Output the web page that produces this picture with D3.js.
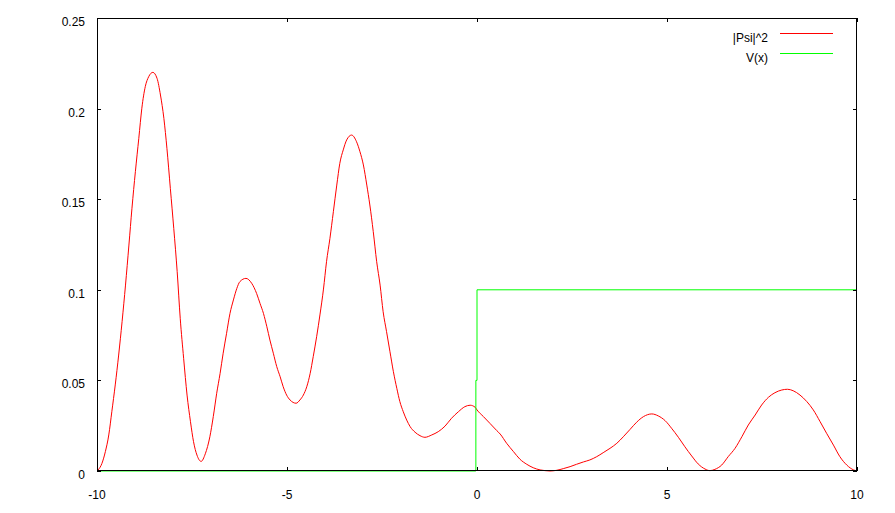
<!DOCTYPE html>
<html><head><meta charset="utf-8">
<script src="https://cdn.jsdelivr.net/npm/d3@7"></script>
<style>
html,body{margin:0;padding:0;background:#fff;}
svg text{font-family:"Liberation Sans",Arial,sans-serif;font-size:12px;fill:#000;}
</style></head>
<body><svg id="c" width="895" height="513"></svg>
<script>
const psiX = [-10,-9.97,-9.87,-9.78,-9.69,-9.61,-9.52,-9.43,-9.34,-9.25,-9.16,-9.08,-8.99,-8.90,-8.82,-8.73,-8.64,-8.53,-8.42,-8.33,-8.24,-8.16,-8.07,-7.98,-7.89,-7.81,-7.72,-7.63,-7.54,-7.46,-7.37,-7.26,-7.15,-7.03,-6.94,-6.85,-6.76,-6.68,-6.59,-6.50,-6.41,-6.32,-6.24,-6.08,-5.93,-5.80,-5.71,-5.62,-5.53,-5.45,-5.36,-5.27,-5.18,-5.10,-5.01,-4.92,-4.76,-4.66,-4.57,-4.48,-4.39,-4.31,-4.22,-4.13,-4.04,-3.96,-3.87,-3.78,-3.69,-3.61,-3.52,-3.43,-3.30,-3.17,-3.08,-2.99,-2.90,-2.82,-2.73,-2.64,-2.55,-2.47,-2.38,-2.29,-2.20,-2.11,-2.03,-1.94,-1.85,-1.76,-1.63,-1.50,-1.37,-1.19,-1.02,-0.84,-0.67,-0.49,-0.32,-0.18,-0.05,0.0,0.17,0.34,0.52,0.61,0.78,0.96,1.13,1.31,1.48,1.66,1.79,1.92,2.10,2.27,2.45,2.62,2.80,2.97,3.15,3.32,3.50,3.68,3.85,4.03,4.20,4.38,4.60,4.77,4.95,5.12,5.30,5.47,5.65,5.82,6.0,6.13,6.26,6.44,6.61,6.79,6.97,7.14,7.32,7.49,7.67,7.84,8.02,8.17,8.32,8.50,8.68,8.85,9.03,9.20,9.38,9.55,9.73,9.91,10];
const psiY = [0,0.0006,0.0042,0.0107,0.0199,0.0327,0.0475,0.064,0.0824,0.1026,0.1247,0.145,0.1652,0.1836,0.2002,0.2121,0.2176,0.22,0.2167,0.2075,0.1946,0.1781,0.156,0.1339,0.11,0.0843,0.0622,0.0419,0.0272,0.0162,0.0088,0.0053,0.0095,0.0189,0.03,0.0429,0.0539,0.065,0.076,0.087,0.0944,0.1008,0.1045,0.1063,0.1036,0.098,0.0925,0.087,0.0796,0.0723,0.065,0.0576,0.052,0.0465,0.0419,0.0392,0.0374,0.0392,0.0419,0.0465,0.0539,0.0631,0.0741,0.0866,0.1004,0.1155,0.1284,0.1431,0.1578,0.1698,0.1772,0.1827,0.1854,0.1817,0.1762,0.1689,0.1578,0.1468,0.1321,0.1155,0.1026,0.0879,0.0769,0.0658,0.0548,0.0456,0.0383,0.0327,0.0281,0.0245,0.0214,0.0195,0.0186,0.0199,0.0217,0.0248,0.0291,0.0327,0.0355,0.0363,0.0352,0.0337,0.030,0.0263,0.0223,0.0204,0.0153,0.0107,0.0065,0.0037,0.0018,0.0006,0.0002,0,0.0004,0.0013,0.0024,0.0037,0.005,0.0061,0.0079,0.0101,0.0125,0.0153,0.0189,0.023,0.0269,0.030,0.0315,0.0304,0.0278,0.0236,0.0186,0.0134,0.0083,0.0039,0.0011,0.0002,0.0009,0.0033,0.0079,0.0125,0.0189,0.0254,0.0309,0.0364,0.0407,0.0432,0.0447,0.0451,0.0443,0.0419,0.0383,0.0337,0.0272,0.0208,0.0143,0.0079,0.0033,0.0006,0];
const vX = [-10,-0.03,-0.03,0,0,10];
const vY = [0,0,0.05,0.05,0.1,0.1];
const xTicks = [-10,-5,0,5,10];
const yTicks = [0,0.05,0.1,0.15,0.2,0.25];
const seriesNames = ["|Psi|^2","V(x)"];
const colors = ["#ff0000","#00ff00"];

const svg = d3.select("#c");
const L=97,R=857,T=18,B=471;
const x = d3.scaleLinear().domain([-10,10]).range([L,R]);
const y = d3.scaleLinear().domain([0,0.25]).range([B,T]);
const tl = 4;

const psi = psiX.map((v,i)=>[v,psiY[i]]);
const pot = vX.map((v,i)=>[v,vY[i]]);

svg.append("path").datum(psi)
  .attr("d", d3.line().x(d=>x(d[0])).y(d=>y(d[1])).curve(d3.curveMonotoneX))
  .attr("fill","none").attr("stroke",colors[0]).attr("stroke-width",1);
svg.append("path").datum(pot)
  .attr("d", d3.line().x(d=>x(d[0])).y(d=>y(d[1])))
  .attr("fill","none").attr("stroke",colors[1]).attr("stroke-width",1);

// frame
svg.append("rect").attr("x",L+0.5).attr("y",T+0.5).attr("width",R-L-1).attr("height",B-T-1)
  .attr("fill","none").attr("stroke","#000").attr("stroke-width",1);

// ticks
const g = svg.append("g").attr("stroke","#000").attr("stroke-width",1);
xTicks.forEach(t=>{
  const px = Math.round(x(t))+0.5;
  g.append("line").attr("x1",px).attr("x2",px).attr("y1",B).attr("y2",B-tl);
  g.append("line").attr("x1",px).attr("x2",px).attr("y1",T).attr("y2",T+tl);
});
yTicks.forEach(t=>{
  const py = Math.round(y(t))+0.5;
  g.append("line").attr("x1",L).attr("x2",L+tl).attr("y1",py).attr("y2",py);
  g.append("line").attr("x1",R).attr("x2",R-tl).attr("y1",py).attr("y2",py);
});
xTicks.forEach(t=>{
  svg.append("text").attr("x",x(t)).attr("y",B+28).attr("text-anchor","middle").text(String(t));
});
yTicks.forEach(t=>{
  svg.append("text").attr("x",L-12).attr("y",y(t)+8).attr("text-anchor","end").text(String(t));
});

// legend
seriesNames.forEach((n,i)=>{
  const ly = 33.5 + i*20;
  svg.append("text").attr("x",768).attr("y",ly+8).attr("text-anchor","end").text(n);
  svg.append("line").attr("x1",780).attr("x2",833).attr("y1",ly).attr("y2",ly)
    .attr("stroke",colors[i]).attr("stroke-width",1);
});
</script></body></html>
